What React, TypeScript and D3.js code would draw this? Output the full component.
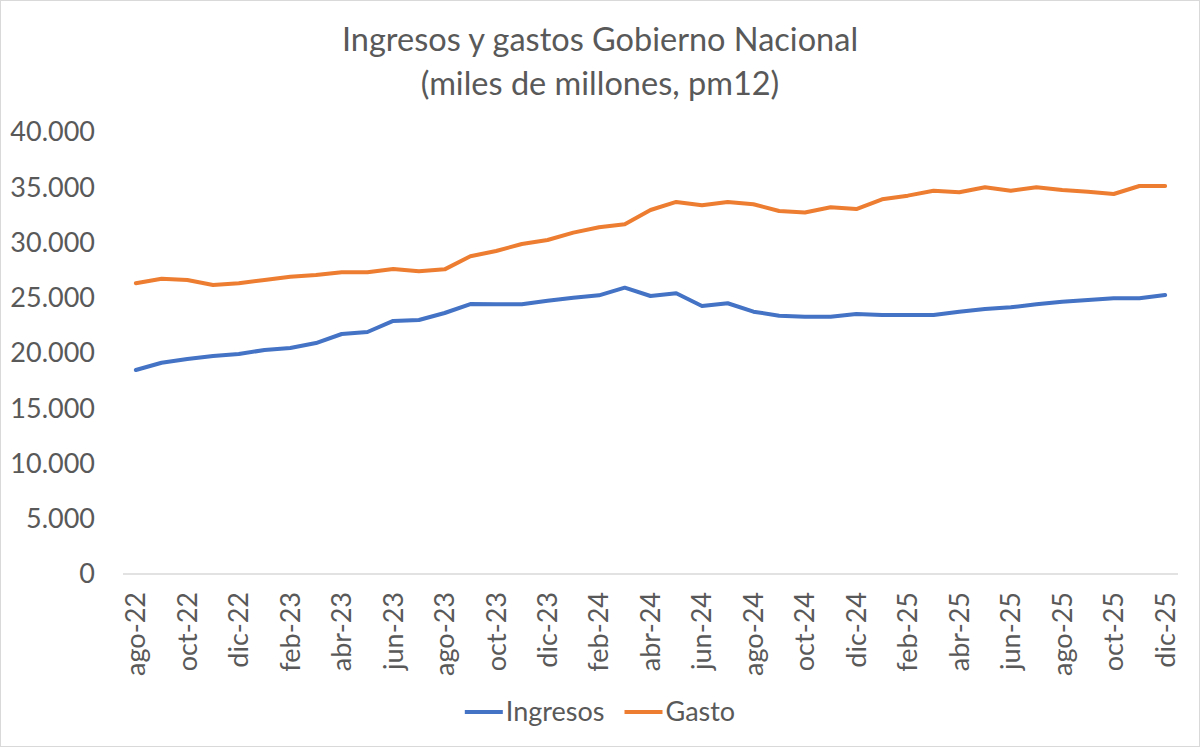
import * as d3 from "d3";
import { useEffect, useRef } from "react";

// monthly categories, ago-22 .. dic-25
const months = [
  "ago-22", "sep-22", "oct-22", "nov-22", "dic-22",
  "ene-23", "feb-23", "mar-23", "abr-23", "may-23", "jun-23", "jul-23", "ago-23", "sep-23", "oct-23", "nov-23", "dic-23",
  "ene-24", "feb-24", "mar-24", "abr-24", "may-24", "jun-24", "jul-24", "ago-24", "sep-24", "oct-24", "nov-24", "dic-24",
  "ene-25", "feb-25", "mar-25", "abr-25", "may-25", "jun-25", "jul-25", "ago-25", "sep-25", "oct-25", "nov-25", "dic-25",
];

const ingresos = [
  18460, 19120, 19460, 19730, 19910,
  20270, 20450, 20900, 21720, 21900, 22900, 22990, 23620, 24430, 24410, 24410, 24730,
  25000, 25220, 25910, 25160, 25400, 24250, 24500, 23740, 23380, 23280, 23280, 23530,
  23440, 23440, 23440, 23740, 23980, 24140, 24410, 24640, 24800, 24950, 24950, 25250,
];

const gasto = [
  26310, 26720, 26610, 26150, 26310,
  26610, 26900, 27060, 27300, 27300, 27600, 27390, 27570, 28750, 29230, 29860, 30230,
  30890, 31380, 31650, 32940, 33670, 33370, 33670, 33460, 32850, 32710, 33190, 33030,
  33910, 34240, 34690, 34540, 35000, 34690, 35000, 34750, 34600, 34390, 35110, 35110,
];

const yTicks = [0, 5000, 10000, 15000, 20000, 25000, 30000, 35000, 40000];

const series = [
  { name: "Ingresos", values: ingresos, color: "#4472C4" },
  { name: "Gasto", values: gasto, color: "#ED7D31" },
];

export default function App() {
  const svgRef = useRef<SVGSVGElement>(null);
  const width = 1200;
  const height = 747;

  useEffect(() => {
    const svg = d3.select(svgRef.current);
    svg.selectAll("*").remove();

    const font = "Lato, 'Open Sans', sans-serif";
    const textColor = "#595959";
    const fontSize = "27px";
    const margin = { left: 123, right: 22, top: 132, bottom: 173 };

    svg.append("rect")
      .attr("x", 0.5).attr("y", 0.5)
      .attr("width", width - 1).attr("height", height - 1)
      .attr("fill", "#fff")
      .attr("stroke", "#d9d9d9");

    // title
    const title = svg.append("text")
      .attr("text-anchor", "middle")
      .attr("fill", textColor)
      .style("font-family", font)
      .style("font-size", "32.5px");
    title.append("tspan").attr("x", width / 2).attr("y", 51).text("Ingresos y gastos Gobierno Nacional");
    title.append("tspan").attr("x", width / 2).attr("y", 95).text("(miles de millones, pm12)");

    const x = d3.scaleBand<string>()
      .domain(months)
      .range([margin.left, width - margin.right]);

    const y = d3.scaleLinear()
      .domain([0, 40000])
      .range([height - margin.bottom, margin.top]);

    const fmt = (v: number) => d3.format(",")(v).replace(/,/g, ".");

    // y axis labels
    svg.append("g")
      .selectAll("text")
      .data(yTicks)
      .enter()
      .append("text")
      .attr("x", 95)
      .attr("y", d => y(d))
      .attr("dy", "0.35em")
      .attr("text-anchor", "end")
      .attr("fill", textColor)
      .style("font-family", font)
      .style("font-size", fontSize)
      .text(d => fmt(d));

    // x axis line
    svg.append("line")
      .attr("x1", margin.left).attr("x2", width - margin.right)
      .attr("y1", y(0)).attr("y2", y(0))
      .attr("stroke", "#d9d9d9")
      .attr("stroke-width", 1.5);

    // x labels, every other month, rotated
    const cx = (m: string) => x(m)! + x.bandwidth() / 2;
    svg.append("g")
      .selectAll("text")
      .data(months.filter((_, i) => i % 2 === 0))
      .enter()
      .append("text")
      .attr("transform", d => `translate(${cx(d)},${y(0) + 18}) rotate(-90)`)
      .attr("dy", "0.35em")
      .attr("text-anchor", "end")
      .attr("fill", textColor)
      .style("font-family", font)
      .style("font-size", fontSize)
      .text(d => d);

    // lines
    const line = d3.line<number>()
      .x((_, i) => cx(months[i]))
      .y(d => y(d));

    svg.append("g")
      .selectAll("path")
      .data(series)
      .enter()
      .append("path")
      .attr("d", d => line(d.values))
      .attr("fill", "none")
      .attr("stroke", d => d.color)
      .attr("stroke-width", 4)
      .attr("stroke-linejoin", "round")
      .attr("stroke-linecap", "round");

    // legend, centred under the plot
    const legendY = 712;
    const lg = svg.append("g");
    let lx = 0;
    series.forEach(s => {
      lg.append("line")
        .attr("x1", lx).attr("x2", lx + 38)
        .attr("y1", legendY).attr("y2", legendY)
        .attr("stroke", s.color)
        .attr("stroke-width", 4);
      const t = lg.append("text")
        .attr("x", lx + 41)
        .attr("y", legendY)
        .attr("dy", "0.35em")
        .attr("fill", textColor)
        .style("font-family", font)
        .style("font-size", fontSize)
        .text(s.name);
      const w = (t.node() as SVGTextElement).getComputedTextLength();
      lx = lx + 41 + w + 20;
    });
    const total = lx - 20;
    lg.attr("transform", `translate(${width / 2 - total / 2},0)`);
  }, []);

  return (
    <svg
      ref={svgRef}
      width={width}
      height={height}
      style={{ position: "absolute", left: 0, top: 0 }}
    ></svg>
  );
}
